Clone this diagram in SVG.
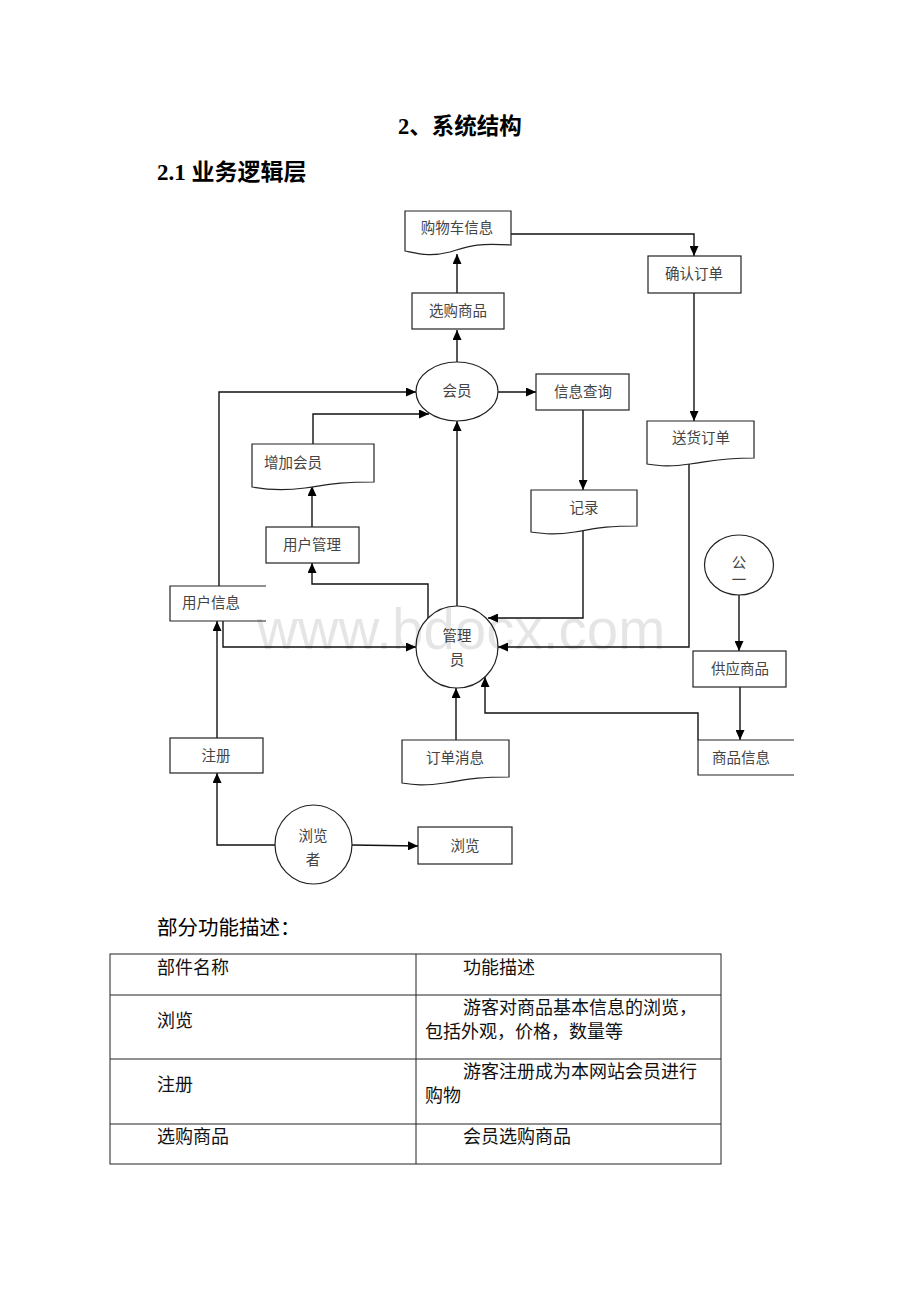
<svg xmlns="http://www.w3.org/2000/svg" width="920" height="1302" viewBox="0 0 920 1302">
<style>
.bx{fill:#fff;stroke:#222;stroke-width:1.2}
.op{fill:none;stroke:#222;stroke-width:1.2}
.t{font-family:"Liberation Sans","Noto Sans CJK SC",sans-serif;font-size:14.5px;fill:#444;text-anchor:middle}
.c{fill:none;stroke:#111;stroke-width:1.4}
.h{font-family:"Liberation Serif","Noto Sans CJK SC",serif;font-weight:bold;fill:#000}
.tb{font-family:"Liberation Serif","Noto Sans CJK SC",serif;font-size:18px;fill:#111}
.tl{fill:none;stroke:#222;stroke-width:1}
</style>
<defs>
<marker id="ar" markerUnits="userSpaceOnUse" markerWidth="11" markerHeight="9" refX="10" refY="4.5" orient="auto"><path d="M0,0 L10,4.5 L0,9 z" fill="#000"/></marker>
</defs>
<rect width="920" height="1302" fill="#fff"/>

<text class="h" x="398" y="134" font-size="22.5">2、系统结构</text>
<text class="h" x="157" y="180" font-size="23">2.1 业务逻辑层</text>

<g id="connectors">
<path class="c" d="M457,293 V254" marker-end="url(#ar)"/>
<path class="c" d="M511,234 H694 V256" marker-end="url(#ar)"/>
<path class="c" d="M457,362 V330" marker-end="url(#ar)"/>
<path class="c" d="M498,392 H536" marker-end="url(#ar)"/>
<path class="c" d="M583,410 V490" marker-end="url(#ar)"/>
<path class="c" d="M583,530 V618 H488" marker-end="url(#ar)"/>
<path class="c" d="M694,293 V421" marker-end="url(#ar)"/>
<path class="c" d="M689,464 V647 H498" marker-end="url(#ar)"/>
<path class="c" d="M739,595 V651" marker-end="url(#ar)"/>
<path class="c" d="M740,687 V740" marker-end="url(#ar)"/>
<path class="c" d="M698,740 V713 H485 V677" marker-end="url(#ar)"/>
<path class="c" d="M456,740 V688" marker-end="url(#ar)"/>
<path class="c" d="M457,606 V421" marker-end="url(#ar)"/>
<path class="c" d="M428,618 V584 H312 V563" marker-end="url(#ar)"/>
<path class="c" d="M312,527 V486" marker-end="url(#ar)"/>
<path class="c" d="M313,444 V414 H429" marker-end="url(#ar)"/>
<path class="c" d="M219,586 V392 H416" marker-end="url(#ar)"/>
<path class="c" d="M223,621 V647 H416" marker-end="url(#ar)"/>
<path class="c" d="M217,738 V621" marker-end="url(#ar)"/>
<path class="c" d="M277,845 H217 V773" marker-end="url(#ar)"/>
<path class="c" d="M352,845 L418,846" marker-end="url(#ar)"/>
</g>

<g id="n-gouwuche"><path class="bx" d="M405,211 H511 V245 C475,243 470,246 450,252 C430,257 420,254 405,251 Z"/><text class="t" x="457" y="233">购物车信息</text></g>
<g id="n-queren"><rect class="bx" x="648" y="256" width="93" height="37"/><text class="t" x="694" y="279">确认订单</text></g>
<g id="n-xuangou"><rect class="bx" x="412" y="293" width="92" height="36"/><text class="t" x="458" y="316">选购商品</text></g>
<g id="n-huiyuan"><ellipse class="bx" cx="457" cy="391.5" rx="41" ry="29.5"/><text class="t" x="457" y="396">会员</text></g>
<g id="n-xinxi"><rect class="bx" x="536" y="374" width="93" height="36"/><text class="t" x="583" y="397">信息查询</text></g>
<g id="n-jilu"><path class="bx" d="M531,490 H637 V526 C600,526 595,529 575,532 C555,535 545,534 531,532 Z"/><text class="t" x="584" y="513">记录</text></g>
<g id="n-songhuo"><path class="bx" d="M647,421 H754 V458 C718,458 712,461 690,464 C670,467 660,466 647,464 Z"/><text class="t" x="701" y="443">送货订单</text></g>
<g id="n-zengjia"><path class="bx" d="M252,444 H374 V482 C334,482 328,485 305,488 C282,491 268,490 252,487 Z"/><text class="t" x="293" y="468">增加会员</text></g>
<g id="n-yonghuguanli"><rect class="bx" x="266" y="527" width="93" height="36"/><text class="t" x="312" y="550">用户管理</text></g>
<g id="n-yonghuxinxi"><path class="op" d="M266,586 H170 V621 H266"/><text class="t" x="211" y="608">用户信息</text></g>
<g id="n-gong"><ellipse class="bx" cx="739" cy="565" rx="34.5" ry="30"/><text class="t" x="739" y="568">公</text><text class="t" x="739" y="585">一</text></g>
<g id="n-guanliyuan"><circle class="bx" cx="457" cy="647" r="41"/><text class="t" x="457" y="641">管理</text><text class="t" x="457" y="665">员</text></g>
<g id="n-gongying"><rect class="bx" x="693" y="651" width="93" height="36"/><text class="t" x="740" y="674">供应商品</text></g>
<g id="n-shangpin"><path class="op" d="M794,740 H698 V775 H794"/><text class="t" x="741" y="763">商品信息</text></g>
<g id="n-zhuce"><rect class="bx" x="170" y="738" width="93" height="35"/><text class="t" x="216" y="761">注册</text></g>
<g id="n-dingdan"><path class="bx" d="M402,740 H509 V777 C472,777 466,780 445,783 C424,786 414,785 402,783 Z"/><text class="t" x="455" y="763">订单消息</text></g>
<g id="n-liulanzhe"><ellipse class="bx" cx="313.5" cy="844.5" rx="38.5" ry="39.5"/><text class="t" x="313" y="841">浏览</text><text class="t" x="313" y="865">者</text></g>
<g id="n-liulan"><rect class="bx" x="418" y="827" width="94" height="37"/><text class="t" x="465" y="851">浏览</text></g>

<text x="257" y="649" font-family="Liberation Sans,Arial,sans-serif" font-size="56.5" fill="#000" fill-opacity="0.1">www.bdocx.com</text>

<text x="157" y="935" font-family="Liberation Serif,Noto Sans CJK SC,serif" font-size="20.5" fill="#000">部分功能描述：</text>
<g id="table">
<rect class="tl" x="110" y="954" width="611" height="210"/>
<line class="tl" x1="110" y1="995" x2="721" y2="995"/>
<line class="tl" x1="110" y1="1059" x2="721" y2="1059"/>
<line class="tl" x1="110" y1="1124" x2="721" y2="1124"/>
<line class="tl" x1="416" y1="954" x2="416" y2="1164"/>
<text class="tb" x="157" y="974">部件名称</text>
<text class="tb" x="463" y="974">功能描述</text>
<text class="tb" x="157" y="1027">浏览</text>
<text class="tb" x="463" y="1014">游客对商品基本信息的浏览，</text>
<text class="tb" x="425" y="1038">包括外观，价格，数量等</text>
<text class="tb" x="157" y="1091">注册</text>
<text class="tb" x="463" y="1078">游客注册成为本网站会员进行</text>
<text class="tb" x="425" y="1102">购物</text>
<text class="tb" x="157" y="1143">选购商品</text>
<text class="tb" x="463" y="1143">会员选购商品</text>
</g>
</svg>
